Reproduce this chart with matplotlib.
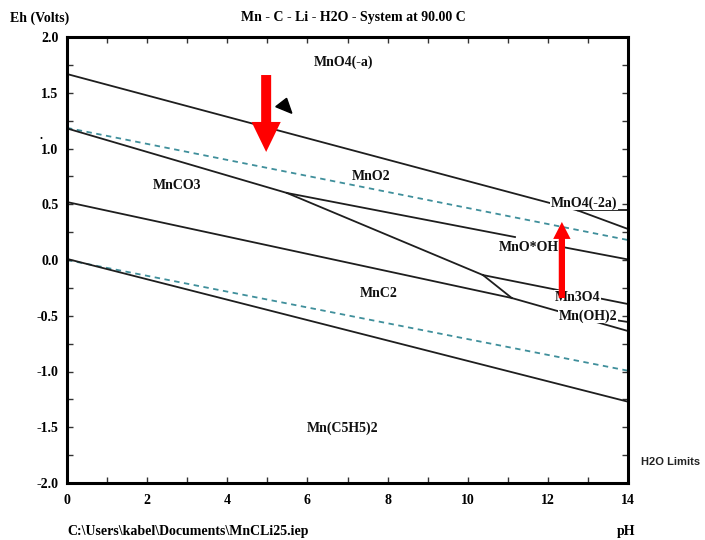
import matplotlib
matplotlib.use("Agg")
import matplotlib.pyplot as plt
from matplotlib.ticker import MultipleLocator, FormatStrFormatter

plt.rcParams['axes.unicode_minus'] = False
serif = ['Liberation Serif', 'DejaVu Serif']

# phase boundaries (pH, Eh)
boundaries = {
    'MnO4-/MnO2': ([0, 12.75], [1.668, 0.444]),
    'MnO4-/MnO4-2': ([12.75, 14], [0.444, 0.444]),
    'MnO4-2/MnO2': ([12.75, 14], [0.444, 0.278]),
    'MnO2/MnCO3': ([0, 5.49], [1.18, 0.601]),
    'MnO2/MnOOH a': ([5.49, 11.18], [0.601, 0.206]),
    'MnO2/MnOOH b': ([12.43, 14], [0.112, 0.005]),
    'MnOOH/MnCO3': ([5.49, 10.38], [0.601, -0.135]),
    'Mn3O4/MnCO3': ([10.38, 11.1], [-0.135, -0.341]),
    'MnOOH/Mn3O4': ([10.38, 14], [-0.135, -0.395]),
    'MnCO3/MnC2': ([0, 11.1], [0.52, -0.341]),
    'Mn(OH)2/MnC2': ([11.1, 14], [-0.341, -0.637]),
    'Mn3O4/Mn(OH)2': ([12.3, 14], [-0.463, -0.556]),
    'MnC2/Mn(C5H5)2': ([0, 14], [0.01, -1.271]),
}

# water stability limits
h2o_ph = [0, 14]
h2o_upper = [1.185, 0.179]
h2o_lower = [0.0, -0.993]

# species labels (text, pH, Eh)
species = [
    ('MnO4(-a)', 6.89, 1.776),
    ('MnO2', 7.59, 0.753),
    ('MnCO3', 2.75, 0.664),
    ('MnO4(-2a)', 12.9, 0.511),
    ('MnO*OH', 11.53, 0.108),
    ('Mn3O4', 12.73, -0.332),
    ('Mn(OH)2', 13.0, -0.502),
    ('MnC2', 7.79, -0.296),
    ('Mn(C5H5)2', 6.89, -1.507),
]

fig = plt.figure(figsize=(7.05, 5.4), dpi=100)
ax = fig.add_axes([67 / 705, 1 - 483 / 540, 561 / 705, 446 / 540])

for name, (ph, eh) in boundaries.items():
    ax.plot(ph, eh, color='#1e1e1e', lw=1.3, zorder=2)

ax.plot(h2o_ph, h2o_upper, color='#3f8f9b', lw=1.3, ls=(0, (3, 2.5)), zorder=1)
ax.plot(h2o_ph, h2o_lower, color='#3f8f9b', lw=1.3, ls=(0, (3, 2.5)), zorder=1)

for txt, x, y in species:
    ax.text(x, y, txt, ha='center', va='center', fontsize=10, fontweight='bold',
            family=serif, color='#111111', zorder=4,
            bbox=dict(boxstyle='square,pad=0.05', fc='white', ec='none'))

# red arrows and marker
ax.annotate('', xy=(4.97, 0.969), xytext=(4.97, 1.659),
            arrowprops=dict(arrowstyle='simple,head_width=21,head_length=21.6,tail_width=7.2',
                            mutation_scale=1, fc='#ff0000', ec='none',
                            shrinkA=0, shrinkB=0), zorder=6)
ax.annotate('', xy=(12.35, 0.341), xytext=(12.35, -0.341),
            arrowprops=dict(arrowstyle='simple,head_width=12.5,head_length=12.2,tail_width=4.5',
                            mutation_scale=1, fc='#ff0000', ec='none',
                            shrinkA=0, shrinkB=0), zorder=6)
ax.fill([5.21, 5.48, 5.61], [1.375, 1.450, 1.316], color='black', zorder=6)

ax.set_xlim(0, 14)
ax.set_ylim(-2.0, 2.0)
ax.xaxis.set_major_locator(MultipleLocator(2))
ax.xaxis.set_minor_locator(MultipleLocator(1))
ax.yaxis.set_major_locator(MultipleLocator(0.5))
ax.yaxis.set_minor_locator(MultipleLocator(0.25))
ax.yaxis.set_major_formatter(FormatStrFormatter('%.1f'))
ax.tick_params(which='both', direction='in', top=True, right=True,
               length=4, width=1, color='#333333')
ax.tick_params(axis='x', pad=8)
ax.tick_params(axis='y', pad=6)
for lab in ax.get_xticklabels() + ax.get_yticklabels():
    lab.set_fontfamily(serif)
    lab.set_fontweight('bold')
    lab.set_fontsize(10)
for sp in ax.spines.values():
    sp.set_linewidth(2.2)
    sp.set_zorder(7)

fig.text(40 / 705, 1 - 18 / 540, 'Eh (Volts)', ha='center', va='center',
         fontsize=10, fontweight='bold', family=serif)
fig.text(353 / 705, 1 - 18 / 540, 'Mn - C - Li - H2O - System at 90.00 C',
         ha='center', va='center', fontsize=10, fontweight='bold', family=serif)
fig.text(67 / 705, 1 - 531 / 540, 'C:\\Users\\kabel\\Documents\\MnCLi25.iep',
         ha='left', va='center', fontsize=10, fontweight='bold', family=serif)
fig.text(626 / 705, 1 - 531 / 540, 'pH', ha='center', va='center',
         fontsize=10, fontweight='bold', family=serif)
fig.text(671 / 705, 1 - 462 / 540, 'H2O Limits', ha='center', va='center',
         fontsize=8, fontweight='bold', family=['Liberation Sans', 'DejaVu Sans'],
         color='#222222')
fig.text(41 / 705, 1 - 136 / 540, '.', ha='center', va='center', fontsize=9,
         fontweight='bold', family=serif)

fig.savefig('out.png', dpi=100)
